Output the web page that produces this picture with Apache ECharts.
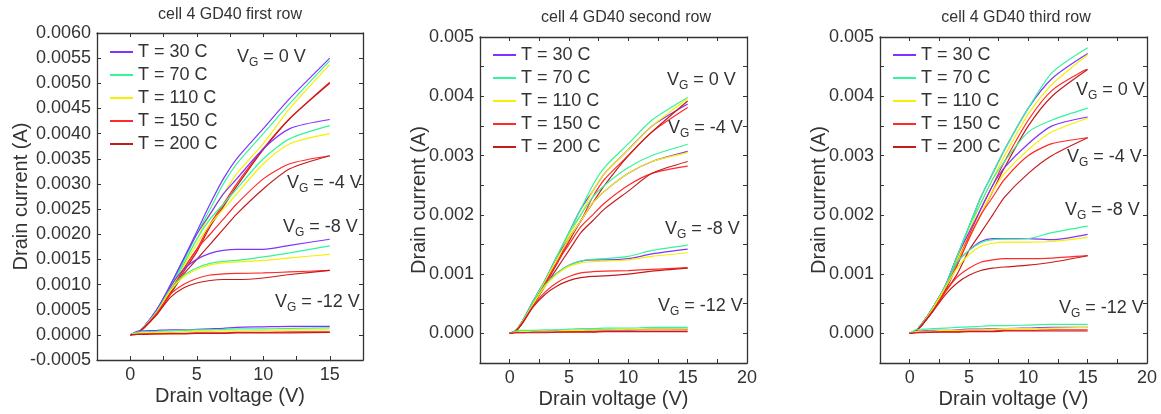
<!DOCTYPE html>
<html>
<head>
<meta charset="utf-8">
<title>cell 4 GD40</title>
<script src="https://cdn.jsdelivr.net/npm/echarts@6/dist/echarts.min.js"></script>
<style>
    html, body { margin: 0; padding: 0; background: #fff; }
    #main { width: 1161px; height: 414px; }
</style>
</head>
<body>
<div id="main"></div>
<script>
// drain voltage sample points (V)
var VD = [0, 0.5, 1, 2, 3, 4, 5, 6, 7, 8, 10, 12, 15]
var temps = ['T = 30 C', 'T = 70 C', 'T = 110 C', 'T = 150 C', 'T = 200 C']
var gates = ['0 V', '-4 V', '-8 V', '-12 V']
var titles = ['cell 4 GD40 first row', 'cell 4 GD40 second row', 'cell 4 GD40 third row']

// drain current (A), one line per temperature: 30, 70, 110, 150, 200 C
var first_0V = [
    [0, 0.00004, 0.00015, 0.0005, 0.00098, 0.0015, 0.00205, 0.0026, 0.0031, 0.0035, 0.0041, 0.0047, 0.0055],
    [0, 0.00004, 0.00015, 0.00048, 0.00094, 0.00145, 0.0020, 0.0025, 0.0030, 0.0034, 0.0040, 0.0046, 0.00545],
    [0, 0.00004, 0.00014, 0.00046, 0.0009, 0.0014, 0.0019, 0.0024, 0.0028, 0.0032, 0.0038, 0.0045, 0.00537],
    [0, 0.00004, 0.00014, 0.00044, 0.00085, 0.0013, 0.0017, 0.0022, 0.0026, 0.0030, 0.0037, 0.0043, 0.00502],
    [0, 0.00004, 0.00013, 0.00042, 0.00082, 0.00125, 0.00165, 0.00215, 0.00255, 0.00295, 0.00368, 0.0043, 0.0050]
]
var first_m4V = [
    [0, 0.00004, 0.00015, 0.0005, 0.00098, 0.0015, 0.002, 0.0024, 0.0028, 0.0031, 0.0037, 0.0041, 0.00428],
    [0, 0.00004, 0.00015, 0.00048, 0.00094, 0.0014, 0.0019, 0.0023, 0.0026, 0.0029, 0.0035, 0.0039, 0.00416],
    [0, 0.00004, 0.00014, 0.00046, 0.0009, 0.00135, 0.0018, 0.0022, 0.0025, 0.0028, 0.0034, 0.0038, 0.0040],
    [0, 0.00004, 0.00014, 0.00044, 0.00085, 0.0013, 0.0017, 0.002, 0.0023, 0.0026, 0.0031, 0.0034, 0.00356],
    [0, 0.00004, 0.00013, 0.00042, 0.0008, 0.0012, 0.0015, 0.0018, 0.0021, 0.0024, 0.0029, 0.0033, 0.00356]
]
var first_m8V = [
    [0, 0.00004, 0.00015, 0.0005, 0.00095, 0.0013, 0.0015, 0.00162, 0.00168, 0.0017, 0.0017, 0.00178, 0.0019],
    [0, 0.00004, 0.00015, 0.00047, 0.0009, 0.00118, 0.00133, 0.00142, 0.00146, 0.00148, 0.00155, 0.00163, 0.00177],
    [0, 0.00004, 0.00014, 0.00045, 0.00087, 0.00115, 0.0013, 0.00139, 0.00143, 0.00145, 0.00148, 0.00153, 0.0016],
    [0, 0.00004, 0.00014, 0.00043, 0.0008, 0.001, 0.00112, 0.00119, 0.00121, 0.00122, 0.00123, 0.00125, 0.00128],
    [0, 0.00004, 0.00013, 0.0004, 0.00074, 0.00093, 0.00103, 0.00108, 0.0011, 0.0011, 0.00113, 0.0012, 0.00128]
]
var first_m12V = [
    [0, 0.00007, 0.00008, 0.00009, 0.0001, 0.0001, 0.00011, 0.00012, 0.00013, 0.00015, 0.00016, 0.00017, 0.00017],
    [0, 0.00005, 0.00006, 0.00007, 0.00008, 0.00009, 0.0001, 0.0001, 0.00011, 0.00012, 0.00012, 0.00013, 0.00014],
    [0, 0.00003, 0.00004, 0.00005, 0.00005, 0.00006, 0.00007, 0.00007, 0.00008, 0.00008, 0.00009, 0.0001, 0.0001],
    [0, 0.00001, 0.00002, 0.00002, 0.00003, 0.00003, 0.00004, 0.00004, 0.00004, 0.00005, 0.00005, 0.00006, 0.00006],
    [0, 0.00001, 0.00001, 0.00002, 0.00002, 0.00002, 0.00003, 0.00003, 0.00003, 0.00004, 0.00004, 0.00004, 0.00005]
]

var second_0V = [
    [0, 0.00005, 0.00018, 0.00055, 0.0009, 0.0013, 0.0017, 0.0021, 0.0024, 0.0027, 0.0031, 0.0035, 0.00387],
    [0, 0.00005, 0.00018, 0.00055, 0.0009, 0.0013, 0.0017, 0.0021, 0.0025, 0.0028, 0.0032, 0.0036, 0.00398],
    [0, 0.00005, 0.00017, 0.00052, 0.00088, 0.00125, 0.00165, 0.0020, 0.0024, 0.0027, 0.0031, 0.0035, 0.00396],
    [0, 0.00004, 0.00016, 0.0005, 0.00085, 0.0012, 0.0016, 0.0019, 0.0023, 0.0026, 0.0030, 0.0034, 0.00381],
    [0, 0.00004, 0.00016, 0.0005, 0.00083, 0.00118, 0.00155, 0.0019, 0.0022, 0.0025, 0.0030, 0.0034, 0.00392]
]
var second_m4V = [
    [0, 0.00005, 0.00018, 0.00055, 0.0009, 0.0013, 0.0016, 0.0019, 0.0022, 0.0024, 0.0027, 0.0029, 0.00307],
    [0, 0.00005, 0.00018, 0.00055, 0.0009, 0.0013, 0.0017, 0.002, 0.0023, 0.0025, 0.0028, 0.0030, 0.00319],
    [0, 0.00005, 0.00017, 0.00052, 0.00088, 0.00125, 0.0016, 0.0019, 0.0022, 0.0024, 0.0027, 0.0029, 0.00305],
    [0, 0.00004, 0.00016, 0.0005, 0.00085, 0.0012, 0.0015, 0.0018, 0.0020, 0.0022, 0.0025, 0.0027, 0.00282],
    [0, 0.00004, 0.00015, 0.00048, 0.0008, 0.0011, 0.0014, 0.0017, 0.0019, 0.0021, 0.0024, 0.0027, 0.0029]
]
var second_m8V = [
    [0, 0.00005, 0.00018, 0.00052, 0.00082, 0.00102, 0.00115, 0.00122, 0.00124, 0.00124, 0.00126, 0.00134, 0.00142],
    [0, 0.00005, 0.00018, 0.00052, 0.00082, 0.00102, 0.00115, 0.00122, 0.00125, 0.00126, 0.0013, 0.0014, 0.00149],
    [0, 0.00005, 0.00017, 0.0005, 0.0008, 0.001, 0.00113, 0.00119, 0.00121, 0.00122, 0.00124, 0.0013, 0.00136],
    [0, 0.00004, 0.00016, 0.00047, 0.0007, 0.00086, 0.00096, 0.00102, 0.00104, 0.00105, 0.00106, 0.00108, 0.00111],
    [0, 0.00004, 0.00015, 0.00045, 0.00066, 0.0008, 0.00089, 0.00094, 0.00096, 0.00097, 0.0010, 0.00105, 0.0011]
]
var second_m12V = [
    [0, 0.00003, 0.00004, 0.00004, 0.00004, 0.00005, 0.00005, 0.00005, 0.00006, 0.00006, 0.00006, 0.00007, 0.00007],
    [0, 0.00004, 0.00005, 0.00005, 0.00006, 0.00006, 0.00007, 0.00008, 0.00008, 0.00009, 0.00009, 0.0001, 0.0001],
    [0, 0.00002, 0.00003, 0.00003, 0.00004, 0.00004, 0.00005, 0.00005, 0.00006, 0.00006, 0.00007, 0.00007, 0.00008],
    [0, 0.00001, 0.00001, 0.00002, 0.00002, 0.00002, 0.00003, 0.00003, 0.00003, 0.00004, 0.00004, 0.00004, 0.00004],
    [0, 0.00001, 0.00001, 0.00001, 0.00001, 0.00002, 0.00002, 0.00002, 0.00002, 0.00003, 0.00003, 0.00003, 0.00003]
]

var third_0V = [
    [0, 0.00004, 0.00015, 0.00045, 0.0008, 0.0013, 0.0018, 0.0023, 0.0027, 0.0031, 0.0038, 0.0043, 0.00472],
    [0, 0.00004, 0.00015, 0.00045, 0.0008, 0.0013, 0.0018, 0.0023, 0.0027, 0.0031, 0.0038, 0.0044, 0.00482],
    [0, 0.00004, 0.00014, 0.00043, 0.00078, 0.00125, 0.00172, 0.0022, 0.0026, 0.0030, 0.0037, 0.0042, 0.0047],
    [0, 0.00004, 0.00014, 0.0004, 0.00075, 0.0012, 0.00165, 0.0021, 0.0025, 0.0029, 0.0036, 0.0041, 0.00447],
    [0, 0.00004, 0.00013, 0.0004, 0.00072, 0.00115, 0.0016, 0.0020, 0.0024, 0.0028, 0.0035, 0.0040, 0.00445]
]
var third_m4V = [
    [0, 0.00004, 0.00015, 0.00045, 0.0008, 0.0013, 0.0017, 0.0021, 0.0025, 0.0028, 0.0032, 0.0035, 0.00365],
    [0, 0.00004, 0.00015, 0.00045, 0.0008, 0.0013, 0.0018, 0.0022, 0.0026, 0.0029, 0.0034, 0.0036, 0.0038],
    [0, 0.00004, 0.00014, 0.00043, 0.00078, 0.0012, 0.0016, 0.0020, 0.0024, 0.0027, 0.0031, 0.0034, 0.00363],
    [0, 0.00004, 0.00014, 0.0004, 0.00075, 0.00115, 0.0016, 0.0020, 0.0023, 0.0026, 0.0030, 0.0032, 0.0033],
    [0, 0.00004, 0.00013, 0.0004, 0.0007, 0.0010, 0.0014, 0.0017, 0.0020, 0.0023, 0.0027, 0.0030, 0.0033]
]
var third_m8V = [
    [0, 0.00004, 0.00015, 0.00045, 0.0008, 0.0012, 0.0014, 0.00155, 0.0016, 0.0016, 0.0016, 0.00158, 0.00167],
    [0, 0.00004, 0.00015, 0.00045, 0.0008, 0.0012, 0.0014, 0.00153, 0.00158, 0.00159, 0.0016, 0.0017, 0.00181],
    [0, 0.00004, 0.00014, 0.00043, 0.00077, 0.0011, 0.00133, 0.00147, 0.00152, 0.00154, 0.00154, 0.00155, 0.00162],
    [0, 0.00004, 0.00014, 0.0004, 0.0007, 0.00095, 0.0011, 0.0012, 0.00124, 0.00126, 0.00126, 0.00127, 0.00131],
    [0, 0.00004, 0.00013, 0.00038, 0.00065, 0.00085, 0.00098, 0.00106, 0.0011, 0.00112, 0.00115, 0.0012, 0.00131]
]
var third_m12V = [
    [0, 0.00004, 0.00004, 0.00005, 0.00005, 0.00006, 0.00007, 0.00007, 0.00008, 0.00008, 0.00009, 0.0001, 0.0001],
    [0, 0.00006, 0.00007, 0.00008, 0.00009, 0.0001, 0.00011, 0.00012, 0.00013, 0.00013, 0.00014, 0.00015, 0.00015],
    [0, 0.00003, 0.00003, 0.00004, 0.00005, 0.00005, 0.00006, 0.00006, 0.00007, 0.00008, 0.00008, 0.00009, 0.0001],
    [0, 0.00001, 0.00002, 0.00002, 0.00003, 0.00003, 0.00004, 0.00004, 0.00004, 0.00005, 0.00005, 0.00006, 0.00006],
    [0, 0.00001, 0.00001, 0.00002, 0.00002, 0.00002, 0.00003, 0.00003, 0.00003, 0.00004, 0.00004, 0.00004, 0.00004]
]

var colors = ['#8033ff', '#33f59a', '#f5f000', '#ff2a2a', '#c41c1c']
var font = '"Liberation Sans", Arial, sans-serif'
var ink = '#333'

// layout of the three panels
var panels = [
    { groups: [first_0V, first_m4V, first_m8V, first_m12V],
      grid: { left: 97, top: 33, width: 266, height: 327 },
      xmax: 17.5, ymax: 0.006, dec: 4, yGap: 66,
      title: [230, 15], legend: [110, 42],
      gateAt: [[237, 57], [287, 183], [283, 227], [275, 302]] },
    { groups: [second_0V, second_m4V, second_m8V, second_m12V],
      grid: { left: 480, top: 37, width: 267, height: 326 },
      xmax: 20, ymax: 0.005, dec: 3, yGap: 51,
      title: [626, 18], legend: [493, 45],
      gateAt: [[667, 80], [668, 128], [665, 229], [658, 306]] },
    { groups: [third_0V, third_m4V, third_m8V, third_m12V],
      grid: { left: 880, top: 37, width: 267, height: 326 },
      xmax: 20, ymax: 0.005, dec: 3, yGap: 51,
      title: [1016, 18], legend: [893, 45],
      gateAt: [[1076, 90], [1067, 157], [1065, 210], [1059, 308]] }
]

function near(v, step) {
    return Math.abs(v / step - Math.round(v / step)) < 1e-6
}

var grids = [], xAxes = [], yAxes = [], series = [], legends = [], graphics = []

panels.forEach(function (p, k) {
    grids.push(p.grid)
    var line = { show: true, onZero: false, lineStyle: { color: ink, width: 1.3 } }
    var tick = { show: true, inside: true, length: 4, lineStyle: { color: ink, width: 1 } }
    var dec = p.dec
    var step = dec == 4 ? 0.0005 : 0.001
    xAxes.push({
        gridIndex: k, type: 'value', position: 'bottom',
        min: -2.5, max: p.xmax, interval: 2.5,
        axisLine: line, axisTick: tick, splitLine: { show: false },
        axisLabel: {
            color: ink, fontSize: 18, fontFamily: font, margin: 6,
            formatter: function (v) { return near(v, 5) ? String(Math.round(v)) : '' }
        },
        name: 'Drain voltage (V)', nameLocation: 'middle', nameGap: 26, nameMoveOverlap: false,
        nameTextStyle: { color: ink, fontSize: 20, fontFamily: font }
    })
    xAxes.push({
        gridIndex: k, type: 'value', position: 'top',
        min: -2.5, max: p.xmax, interval: 2.5,
        axisLine: line, axisTick: tick, axisLabel: { show: false }, splitLine: { show: false }
    })
    yAxes.push({
        gridIndex: k, type: 'value', position: 'left',
        min: -0.0005, max: p.ymax, interval: 0.0005,
        axisLine: line, axisTick: tick, splitLine: { show: false },
        axisLabel: {
            color: ink, fontSize: 18, fontFamily: font, margin: 6,
            formatter: function (v) { return near(v, step) ? v.toFixed(dec) : '' }
        },
        name: 'Drain current (A)', nameLocation: 'middle', nameGap: p.yGap, nameMoveOverlap: false,
        nameTextStyle: { color: ink, fontSize: 20, fontFamily: font }
    })
    yAxes.push({
        gridIndex: k, type: 'value', position: 'right',
        min: -0.0005, max: p.ymax, interval: 0.0005,
        axisLine: line, axisTick: tick, axisLabel: { show: false }, splitLine: { show: false }
    })

    p.groups.forEach(function (group) {
        group.forEach(function (vals, t) {
            series.push({
                name: temps[t], type: 'line',
                xAxisIndex: k * 2, yAxisIndex: k * 2,
                data: VD.map(function (v, i) { return [v, vals[i]] }),
                symbol: 'none', smooth: 0.25,
                lineStyle: { width: 1.2, color: colors[t] },
                itemStyle: { color: colors[t] }
            })
        })
    })

    legends.push({
        data: temps, orient: 'vertical',
        left: p.legend[0], top: p.legend[1],
        icon: 'rect', itemWidth: 23, itemHeight: 2, itemGap: 3, padding: 0,
        selectedMode: false,
        textStyle: { color: ink, fontSize: 18, fontFamily: font, lineHeight: 20 }
    })

    graphics.push({
        type: 'text', x: p.title[0], y: p.title[1],
        style: { text: titles[k], fill: ink, font: '16px ' + font, align: 'center', verticalAlign: 'middle' }
    })
    p.gateAt.forEach(function (pos, g) {
        graphics.push({
            type: 'text', x: pos[0], y: pos[1],
            style: {
                text: '{a|V}{b|G}{a| = ' + gates[g] + '}',
                verticalAlign: 'middle',
                rich: {
                    a: { fontSize: 18, fontFamily: font, fill: ink },
                    b: { fontSize: 12, fontFamily: font, fill: ink, padding: [11, 0, 0, 0] }
                }
            }
        })
    })
})

var myChart = echarts.init(document.getElementById('main'))
option = {
    animation: false,
    backgroundColor: '#fff',
    grid: grids,
    xAxis: xAxes,
    yAxis: yAxes,
    legend: legends,
    graphic: graphics,
    series: series
}
myChart.setOption(option)
</script>
</body>
</html>
